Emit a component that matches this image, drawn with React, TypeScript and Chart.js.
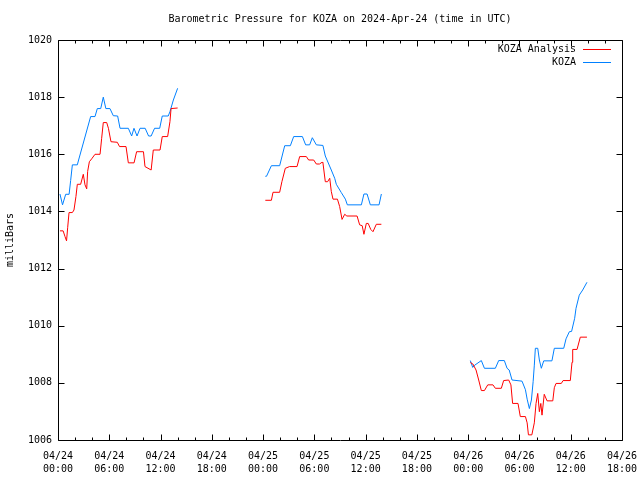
import React, { useEffect, useRef } from "react";
import { Chart, registerables } from "chart.js";

Chart.register(...registerables);

const TITLE = "Barometric Pressure for KOZA on 2024-Apr-24 (time in UTC)";
const Y_TITLE = "milliBars";
const FONT = "DejaVu Sans Mono";

// x axis: hours since 04/24 00:00 UTC
const xTickDates = ["04/24", "04/24", "04/24", "04/24", "04/25", "04/25", "04/25", "04/25", "04/26", "04/26", "04/26", "04/26"];
const xTickTimes = ["00:00", "06:00", "12:00", "18:00", "00:00", "06:00", "12:00", "18:00", "00:00", "06:00", "12:00", "18:00"];
const yTicks = [1006, 1008, 1010, 1012, 1014, 1016, 1018, 1020];

const seriesLabels = ["KOZA Analysis", "KOZA"];
const seriesColors = ["#ff0000", "#0080ff"];

// KOZA Analysis (red); null values mark data gaps
const analysisHours = [
  0.23, 0.6, 0.82, 1.0, 1.13, 1.29, 1.68, 1.87, 2.1, 2.26, 2.65, 2.96, 3.16, 3.36, 3.47, 3.67, 3.94, 4.33, 4.92, 5.11,
  5.3, 5.7, 5.9, 6.2, 6.94, 7.2, 7.96, 8.23, 8.9, 9.2, 10.0, 10.18, 10.9, 11.15, 11.94, 12.2, 12.83, 13.1, 13.23, 14.0,
  19,
  24.26, 24.97, 25.16, 25.94, 26.2, 26.6, 27.1, 27.97, 28.28, 29.06, 29.33, 29.92, 30.23, 30.6, 30.9, 31.0, 31.28, 31.55,
  31.8, 31.98, 32.18, 32.7, 32.96, 33.24, 33.55, 33.8, 35.0, 35.3, 35.6, 35.8, 36.08, 36.3, 36.6, 36.86, 37.25, 37.84,
  43,
  48.25, 48.55, 48.92, 49.23, 49.54, 49.9, 50.29, 50.9, 51.18, 51.88, 52.15, 52.74, 53.0, 53.2, 53.83, 54.1, 54.7, 54.9,
  55.05, 55.45, 55.74, 55.94, 56.14, 56.33, 56.5, 56.64, 56.9, 57.23, 57.9, 58.08, 58.28, 58.9, 59.1, 59.95, 60.15, 60.23,
  60.74, 61.12, 61.9,
];
const analysisValues = [
  1013.32, 1013.32, 1013.12, 1012.97, 1013.43, 1013.96, 1013.96, 1014.05, 1014.52, 1014.95, 1014.95, 1015.3, 1014.93,
  1014.79, 1015.4, 1015.74, 1015.84, 1016.0, 1016.0, 1016.56, 1017.11, 1017.11, 1016.91, 1016.44, 1016.42, 1016.27,
  1016.27, 1015.7, 1015.7, 1016.09, 1016.09, 1015.57, 1015.45, 1016.15, 1016.15, 1016.62, 1016.62, 1017.14, 1017.6,
  1017.62,
  null,
  1014.39, 1014.39, 1014.67, 1014.67, 1015.04, 1015.51, 1015.57, 1015.57, 1015.92, 1015.92, 1015.8, 1015.8, 1015.66,
  1015.66, 1015.72, 1015.71, 1015.04, 1015.04, 1015.16, 1014.7, 1014.43, 1014.43, 1014.17, 1013.72, 1013.9, 1013.84,
  1013.84, 1013.53, 1013.5, 1013.2, 1013.58, 1013.58, 1013.37, 1013.29, 1013.55, 1013.55,
  null,
  1008.71, 1008.66, 1008.45, 1008.1, 1007.73, 1007.73, 1007.93, 1007.93, 1007.81, 1007.81, 1008.08, 1008.1, 1007.93,
  1007.28, 1007.28, 1006.82, 1006.82, 1006.6, 1006.18, 1006.18, 1006.6, 1007.28, 1007.63, 1006.99, 1007.28, 1006.87,
  1007.6, 1007.37, 1007.37, 1007.83, 1007.98, 1007.98, 1008.08, 1008.08, 1008.72, 1009.17, 1009.17, 1009.6, 1009.6,
];

// KOZA observations (blue)
const kozaHours = [
  0.23, 0.53, 0.9, 1.3, 1.48, 1.68, 2.26, 2.41, 3.82, 4.33, 4.6, 5.0, 5.3, 5.6, 6.08, 6.47, 6.98, 7.26, 8.23, 8.62, 8.89,
  9.25, 9.6, 10.2, 10.6, 10.9, 11.3, 11.9, 12.2, 12.9, 13.1, 13.5, 14.0,
  19,
  24.26, 24.4, 24.97, 25.94, 26.53, 27.19, 27.58, 28.6, 28.98, 29.45, 29.76, 30.23, 31.0, 31.28, 31.98, 32.38, 32.57,
  33.15, 33.63, 33.86, 35.5, 35.8, 36.17, 36.55, 37.57, 37.84,
  43,
  48.25, 48.53, 48.77, 49.54, 49.9, 51.18, 51.57, 52.23, 52.55, 52.8, 53.13, 54.3, 54.7, 54.9, 55.16, 55.4, 55.6, 55.74,
  55.86, 56.14, 56.33, 56.56, 56.84, 57.8, 58.08, 59.18, 59.45, 59.84, 60.1, 60.46, 60.62, 61.0, 61.4, 61.9,
];
const kozaValues = [
  1014.61, 1014.23, 1014.6, 1014.6, 1015.08, 1015.63, 1015.63, 1015.8, 1017.32, 1017.32, 1017.6, 1017.6, 1018.0, 1017.6,
  1017.6, 1017.35, 1017.34, 1016.91, 1016.91, 1016.64, 1016.91, 1016.64, 1016.91, 1016.91, 1016.64, 1016.64, 1016.91,
  1016.91, 1017.34, 1017.34, 1017.49, 1017.9, 1018.31,
  null,
  1015.23, 1015.23, 1015.6, 1015.6, 1016.3, 1016.3, 1016.62, 1016.62, 1016.33, 1016.33, 1016.58, 1016.33, 1016.31,
  1015.94, 1015.45, 1015.16, 1014.95, 1014.66, 1014.43, 1014.23, 1014.23, 1014.61, 1014.61, 1014.23, 1014.23, 1014.61,
  null,
  1008.78, 1008.54, 1008.62, 1008.78, 1008.51, 1008.51, 1008.78, 1008.78, 1008.51, 1008.45, 1008.1, 1008.06, 1007.76,
  1007.43, 1007.1, 1007.4, 1008.04, 1008.62, 1009.21, 1009.21, 1008.8, 1008.51, 1008.77, 1008.77, 1009.21, 1009.21,
  1009.54, 1009.79, 1009.8, 1010.26, 1010.61, 1011.07, 1011.25, 1011.52,
];

const X_MIN = 0;
const X_MAX = 66;
const X_MINOR_STEP = 2;

const framePlugin = {
  id: "frame",
  afterDraw(chart: any) {
    const { ctx, chartArea } = chart;
    const { left, right, top, bottom } = chartArea;
    const xs = chart.scales.x;
    const ys = chart.scales.y;
    ctx.save();
    ctx.strokeStyle = "#000";
    ctx.lineWidth = 1;
    const L = Math.round(left) + 0.5;
    const R = Math.round(right) + 0.5;
    const T = Math.round(top) + 0.5;
    const B = Math.round(bottom) + 0.5;
    ctx.beginPath();
    ctx.rect(L, T, R - L, B - T);
    // x ticks
    for (let h = X_MIN; h <= X_MAX; h += X_MINOR_STEP) {
      const px = Math.round(xs.getPixelForValue(h)) + 0.5;
      const len = h % 6 === 0 ? 6 : 3;
      ctx.moveTo(px, B);
      ctx.lineTo(px, B - len);
      ctx.moveTo(px, T);
      ctx.lineTo(px, T + len);
    }
    // y ticks
    for (const v of yTicks) {
      const py = Math.round(ys.getPixelForValue(v)) + 0.5;
      ctx.moveTo(L, py);
      ctx.lineTo(L + 6, py);
      ctx.moveTo(R, py);
      ctx.lineTo(R - 6, py);
    }
    ctx.stroke();

    // title
    ctx.fillStyle = "#000";
    ctx.font = `10px "${FONT}"`;
    ctx.textAlign = "center";
    ctx.textBaseline = "middle";
    ctx.fillText(TITLE, (left + right) / 2, 19);

    // y axis title
    ctx.save();
    ctx.translate(10, (top + bottom) / 2);
    ctx.rotate(-Math.PI / 2);
    ctx.fillText(Y_TITLE, 0, 0);
    ctx.restore();

    // legend
    chart.data.datasets.forEach((ds: any, i: number) => {
      const y = 49 + 13 * i;
      ctx.textAlign = "right";
      ctx.fillStyle = "#000";
      ctx.fillText(ds.label, 576, y);
      ctx.strokeStyle = ds.borderColor;
      ctx.beginPath();
      ctx.moveTo(583, Math.round(y) + 0.5);
      ctx.lineTo(611, Math.round(y) + 0.5);
      ctx.stroke();
    });
    ctx.restore();
  },
};

function toPoints(hours: number[], values: (number | null)[]) {
  return hours.map((h, i) => ({ x: h, y: values[i] }));
}

export default function App() {
  const canvasRef = useRef<HTMLCanvasElement | null>(null);

  useEffect(() => {
    const canvas = canvasRef.current;
    if (!canvas) return;
    const chart = new Chart(canvas, {
      type: "line",
      data: {
        datasets: [
          {
            label: seriesLabels[0],
            data: toPoints(analysisHours, analysisValues) as any,
            borderColor: seriesColors[0],
            borderWidth: 1,
            pointRadius: 0,
            fill: false,
            tension: 0,
            spanGaps: false,
          },
          {
            label: seriesLabels[1],
            data: toPoints(kozaHours, kozaValues) as any,
            borderColor: seriesColors[1],
            borderWidth: 1,
            pointRadius: 0,
            fill: false,
            tension: 0,
            spanGaps: false,
          },
        ],
      },
      options: {
        animation: false,
        responsive: false,
        devicePixelRatio: 1,
        layout: { padding: { top: 40, right: 18, left: 0, bottom: 0 } },
        plugins: {
          legend: { display: false },
          tooltip: { enabled: false },
          title: { display: false },
        },
        scales: {
          x: {
            type: "linear",
            min: X_MIN,
            max: X_MAX,
            grid: { display: false, drawTicks: false },
            border: { display: false },
            afterBuildTicks: (scale: any) => {
              scale.ticks = xTickDates.map((_, i) => ({ value: i * 6 }));
            },
            afterFit: (scale: any) => {
              scale.height = 40;
              scale.paddingLeft = 0;
              scale.paddingRight = 0;
            },
            ticks: {
              autoSkip: false,
              maxRotation: 0,
              minRotation: 0,
              padding: 10,
              color: "#000",
              font: { family: FONT, size: 10, lineHeight: 1.3 },
              callback: (v: any) => {
                const i = Math.round(Number(v) / 6);
                return [xTickDates[i], xTickTimes[i]];
              },
            },
          },
          y: {
            type: "linear",
            min: 1006,
            max: 1020,
            grid: { display: false, drawTicks: false },
            border: { display: false },
            afterBuildTicks: (scale: any) => {
              scale.ticks = yTicks.map((v) => ({ value: v }));
            },
            afterFit: (scale: any) => {
              scale.width = 58;
              scale.paddingTop = 0;
              scale.paddingBottom = 0;
            },
            ticks: {
              autoSkip: false,
              padding: 6,
              color: "#000",
              font: { family: FONT, size: 10 },
              callback: (v: any) => String(v),
            },
          },
        },
      },
      plugins: [framePlugin],
    });
    return () => chart.destroy();
  }, []);

  return (
    <div style={{ position: "fixed", left: 0, top: 0, width: 640, height: 480, background: "#fff" }}>
      <canvas ref={canvasRef} width={640} height={480} />
    </div>
  );
}
